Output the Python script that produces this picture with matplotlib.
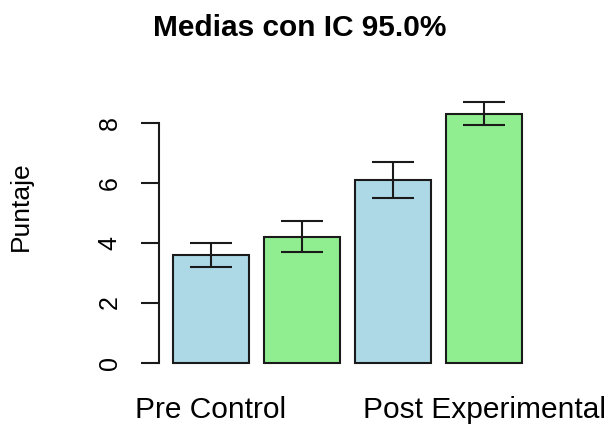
import numpy as np
import matplotlib
matplotlib.use("Agg")
import matplotlib.pyplot as plt

plt.rcParams['font.family'] = ['Liberation Sans', 'DejaVu Sans']

# Medias e intervalos de confianza
grupos = ["Pre Control", "Pre Experimental", "Post Control", "Post Experimental"]
medias = [3.57, 4.17, 6.07, 8.30]
ic_inf = [3.17, 3.67, 5.47, 7.92]
ic_sup = [3.97, 4.73, 6.67, 8.67]
colores = ["#ADD8E6", "#90EE90", "#ADD8E6", "#90EE90"]

fig = plt.figure(figsize=(6.12, 4.26), dpi=100)
ax = fig.add_axes([159 / 612, 1 - 375 / 426, 377 / 612, (375 - 38) / 426])

# posiciones a la manera de barplot() de R (ancho 1, espacio 0.2)
x = 0.7 + 1.2 * np.arange(len(medias))
ax.bar(x, medias, width=1.0, color=colores, edgecolor='#1a1a1a', linewidth=1.5)

err = [np.array(medias) - np.array(ic_inf), np.array(ic_sup) - np.array(medias)]
ax.errorbar(x, medias, yerr=err, fmt='none', ecolor='#1a1a1a', elinewidth=1.5,
            capsize=15, capthick=1.5)

ymax = max(ic_sup) * 1.2
ax.set_ylim(-0.04 * ymax, 1.04 * ymax)
ax.set_xlim(0.016, 4.984)

for s in ['top', 'right', 'bottom']:
    ax.spines[s].set_visible(False)
ax.spines['left'].set_bounds(0, 8)
ax.spines['left'].set_linewidth(1.5)
ax.spines['left'].set_color('#1a1a1a')

ax.set_yticks([0, 2, 4, 6, 8])
ax.set_yticklabels(['0', '2', '4', '6', '8'], rotation=90, va='center', fontsize=18)
ax.tick_params(axis='y', length=13, width=1.5, pad=14, color='#1a1a1a')

# R omite las etiquetas que se solapan: solo quedan la primera y la última
ax.set_xticks([x[0], x[3]])
ax.set_xticklabels([grupos[0], grupos[3]], fontsize=21.5)
ax.tick_params(axis='x', length=0, pad=15)

ax.set_ylabel('Puntaje', fontsize=19)
ax.yaxis.set_label_coords(-0.334, 0.5)

fig.text(300 / 612, 1 - 28 / 426, 'Medias con IC 95.0%', fontsize=21.5,
         fontweight='bold', ha='center', va='center')

fig.savefig('out.png', dpi=100)
